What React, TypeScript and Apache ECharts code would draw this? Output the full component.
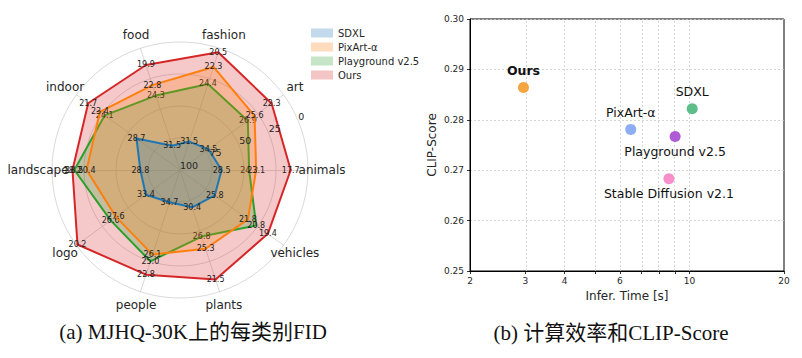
import React, { useEffect, useRef } from 'react';
import * as echarts from 'echarts';

// ---------- Radar (a) ----------
const radarCategories = ['animals', 'art', 'fashion', 'food', 'indoor', 'landscape', 'logo', 'people', 'plants', 'vehicles'];
const radarBest = [15, 20, 20, 17.5, 20, 15, 20, 20, 20, 17.5];
const radarWorst = [35, 40, 35, 35, 35, 35, 40, 40, 35, 30];
const radarModels = ['SDXL', 'PixArt-α', 'Playground v2.5', 'Ours'];
const fidSDXL = [28.5, 34.5, 31.5, 31.5, 28.7, 28.8, 33.4, 34.7, 30.4, 25.8];
const fidPixArt = [23.1, 25.6, 22.3, 22.8, 23.4, 20.4, 27.6, 26.1, 25.3, 21.8];
const fidPlayground = [24.2, 26.9, 24.4, 24.3, 24.1, 18.5, 26.6, 25.0, 26.8, 20.8];
const fidOurs = [17.7, 22.3, 20.5, 19.9, 21.7, 18.2, 20.2, 22.8, 21.5, 19.4];
const radarTickLabels = ['100', '75', '50', '25', '0'];

// ---------- Scatter (b) ----------
const scatterModels = ['Ours', 'PixArt-α', 'SDXL', 'Playground v2.5', 'Stable Diffusion v2.1'];
const inferTime = [2.96, 6.5, 10.2, 9.0, 8.6];
const clipScore = [0.2864, 0.2781, 0.2822, 0.2767, 0.2683];
const xLabelTicks = [2, 3, 4, 6, 10, 20];
const xAllTicks = [2, 3, 4, 5, 6, 7, 8, 9, 10, 20];
const xGridTicks = [3, 4, 5, 6, 7, 8, 9, 10];

const FONT = 'DejaVu Sans';
const radarColors = ['#1f77b4', '#ff7f0e', '#2ca02c', '#d62728'];
const legendFill = ['rgba(31,119,180,0.27)', 'rgba(255,127,14,0.27)', 'rgba(44,160,44,0.27)', 'rgba(214,39,40,0.27)'];
// draw order (bottom -> top) of the radar polygons
const radarDrawOrder = [3, 2, 1, 0];
const pointColors: Record<string, string> = {
  'Ours': '#f7a541',
  'PixArt-α': '#8daef2',
  'SDXL': '#5dbe8a',
  'Playground v2.5': '#b05bd6',
  'Stable Diffusion v2.1': '#f78fc8',
};
const labelBelow: Record<string, boolean> = {
  'Playground v2.5': true,
  'Stable Diffusion v2.1': true,
};

const CX = 180;
const CY = 170;
const R = 128;

export default function App() {
  const ref = useRef<HTMLDivElement>(null);
  useEffect(() => {
    document.body.style.margin = '0';
    if (!ref.current) return;
    const chart = echarts.init(ref.current, null, { renderer: 'svg' });
    const fidSets = [fidSDXL, fidPixArt, fidPlayground, fidOurs];
    const n = radarCategories.length;

    const nameGraphics = radarCategories.map((c, i) => {
      const a = (i * 2 * Math.PI) / n;
      return {
        type: 'text',
        x: CX + 142 * Math.cos(a),
        y: CY - 142 * Math.sin(a),
        style: { text: c, fontSize: 12, fontFamily: FONT, fill: '#262626', align: 'center', verticalAlign: 'middle' },
        z: 10,
      };
    });
    const tickGraphics = radarTickLabels.map((t, k) => {
      const a = (22.5 * Math.PI) / 180;
      const r = (k * R) / (radarTickLabels.length - 1);
      return {
        type: 'text',
        x: CX + r * Math.cos(a),
        y: CY - r * Math.sin(a),
        style: { text: t, fontSize: 9.5, fontFamily: FONT, fill: '#262626', align: 'left', verticalAlign: 'bottom' },
        z: 10,
      };
    });

    const radarSeries = radarDrawOrder.map((si, order) => {
      const m = radarModels[si];
      const vals = fidSets[si];
      return {
        type: 'radar',
        name: m,
        z: 2 + order,
        symbol: 'circle',
        symbolSize: 2,
        data: [{ name: m, value: vals.map((v) => -v) }],
        lineStyle: { color: radarColors[si], width: 2 },
        itemStyle: { color: radarColors[si] },
        areaStyle: { color: radarColors[si], opacity: 0.25 },
        label: {
          show: true,
          position: 'inside',
          fontSize: 8,
          fontFamily: FONT,
          color: '#222',
          formatter: (p: any) => {
            const v = Array.isArray(p.value) ? p.value[p.dimensionIndex] : p.value;
            return (-v).toFixed(1);
          },
        },
      };
    });

    const option: any = {
      animation: false,
      textStyle: { fontFamily: FONT },
      legend: {
        orient: 'vertical',
        left: 306,
        top: 23,
        icon: 'rect',
        itemWidth: 22,
        itemHeight: 9,
        itemGap: 4,
        textStyle: { fontSize: 10, color: '#262626', fontFamily: FONT },
        data: radarModels.map((m, i) => ({ name: m, itemStyle: { color: legendFill[i], borderWidth: 0 } })),
      },
      radar: {
        center: [CX, CY],
        radius: R,
        startAngle: 0,
        shape: 'circle',
        splitNumber: 4,
        indicator: radarCategories.map((c, i) => ({ name: c, min: -radarWorst[i], max: -radarBest[i] })),
        axisName: { show: false },
        splitLine: { lineStyle: { color: '#cfcfcf', width: 0.8 } },
        splitArea: { show: false },
        axisLine: { lineStyle: { color: '#cfcfcf', width: 0.8 } },
        axisTick: { show: false },
        axisLabel: { show: false },
      },
      grid: {
        left: 470,
        top: 19,
        width: 314,
        height: 252,
        show: true,
        borderColor: '#000',
        borderWidth: 1,
        backgroundColor: 'transparent',
      },
      xAxis: {
        type: 'value',
        min: Math.log10(2),
        max: Math.log10(20),
        name: 'Infer. Time [s]',
        nameLocation: 'middle',
        nameGap: 19,
        nameTextStyle: { fontSize: 12, color: '#262626', fontFamily: FONT },
        axisLine: { show: true, onZero: false, lineStyle: { color: '#000', width: 1 } },
        axisTick: {
          show: true,
          length: 3,
          lineStyle: { color: '#000', width: 0.8 },
          customValues: xAllTicks.map((v) => Math.log10(v)),
        },
        axisLabel: {
          fontSize: 9,
          color: '#262626',
          fontFamily: FONT,
          margin: 5,
          customValues: xLabelTicks.map((v) => Math.log10(v)),
          formatter: (v: number) => String(Math.round(Math.pow(10, v))),
        },
        splitLine: { show: false },
      },
      yAxis: {
        type: 'value',
        min: 0.25,
        max: 0.3,
        interval: 0.01,
        name: 'CLIP-Score',
        nameLocation: 'middle',
        nameGap: 32,
        nameTextStyle: { fontSize: 12, color: '#262626', fontFamily: FONT },
        axisLine: { show: true, lineStyle: { color: '#000', width: 1 } },
        axisTick: { show: true, length: 3, lineStyle: { color: '#000', width: 0.8 } },
        axisLabel: {
          fontSize: 9,
          color: '#262626',
          fontFamily: FONT,
          margin: 6,
          formatter: (v: number) => v.toFixed(2),
        },
        splitLine: { show: true, lineStyle: { color: '#cccccc', type: [2, 2], width: 0.8 } },
      },
      series: [
        ...radarSeries,
        {
          type: 'scatter',
          name: 'grid',
          z: 1,
          data: [],
          silent: true,
          markLine: {
            silent: true,
            symbol: ['none', 'none'],
            label: { show: false },
            lineStyle: { color: '#cccccc', type: [2, 2], width: 0.8 },
            data: xGridTicks.map((v) => ({ xAxis: Math.log10(v) })),
          },
        },
        {
          type: 'scatter',
          name: 'efficiency',
          z: 8,
          symbolSize: 11,
          data: scatterModels.map((m, i) => ({
            name: m,
            value: [Math.log10(inferTime[i]), clipScore[i]],
            itemStyle: { color: pointColors[m], opacity: 1 },
            label: {
              show: true,
              position: labelBelow[m] ? 'bottom' : 'top',
              distance: labelBelow[m] ? 3 : 5,
              formatter: '{b}',
              fontSize: 12.5,
              fontFamily: FONT,
              fontWeight: m === 'Ours' ? 'bold' : 'normal',
              color: '#111',
            },
          })),
        },
      ],
      graphic: [
        ...nameGraphics,
        ...tickGraphics,
        {
          type: 'text',
          x: 193,
          y: 332,
          style: {
            text: '(a) MJHQ-30K上的每类别FID',
            fontSize: 21,
            fontFamily: '"Liberation Serif", "Noto Sans CJK SC", serif',
            fill: '#111',
            align: 'center',
            verticalAlign: 'middle',
          },
        },
        {
          type: 'text',
          x: 611,
          y: 333,
          style: {
            text: '(b) 计算效率和CLIP-Score',
            fontSize: 21,
            fontFamily: '"Liberation Serif", "Noto Sans CJK SC", serif',
            fill: '#111',
            align: 'center',
            verticalAlign: 'middle',
          },
        },
      ],
    };
    chart.setOption(option);
    return () => chart.dispose();
  }, []);
  return <div ref={ref} style={{ width: 802, height: 358 }} />;
}
